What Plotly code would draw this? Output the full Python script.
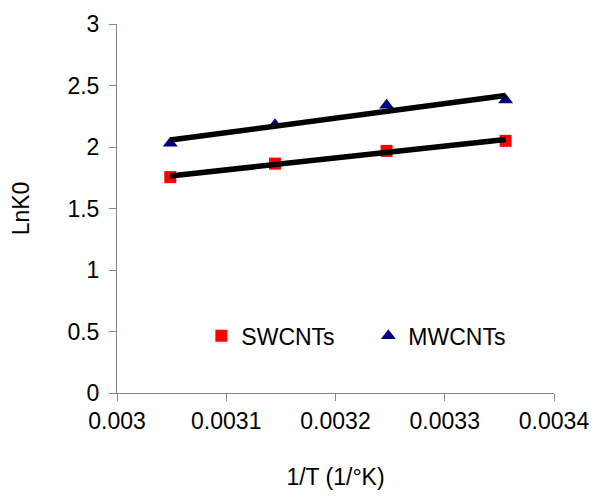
import numpy as np
import plotly.graph_objects as go

# Data
temps_K = [328, 318, 308, 298]
inv_T = [1.0 / t for t in temps_K]
sw_lnk0 = [1.755, 1.865, 1.968, 2.050]
mw_lnk0 = [2.031, 2.180, 2.340, 2.383]

x_ticks = [0.003, 0.0031, 0.0032, 0.0033, 0.0034]
x_tick_labels = ["0.003", "0.0031", "0.0032", "0.0033", "0.0034"]
y_ticks = [0, 0.5, 1, 1.5, 2, 2.5, 3]
y_tick_labels = ["0", "0.5", "1", "1.5", "2", "2.5", "3"]

FONT = "Liberation Sans, Arial, sans-serif"
AXIS_COLOR = "#868686"
FS = 23

fig = go.Figure()
fig.add_trace(go.Scatter(
    x=inv_T, y=sw_lnk0, mode="markers", name="SWCNTs",
    marker=dict(symbol="square", size=12, color="#FF0000"),
))
fig.add_trace(go.Scatter(
    x=inv_T, y=mw_lnk0, mode="markers", name="MWCNTs",
    marker=dict(symbol="triangle-up", size=13, color="#000080"),
))

# Linear trendlines (least-squares fit, as in the original spreadsheet chart)
xa = np.array(inv_T)
for ys in (sw_lnk0, mw_lnk0):
    k, b = np.polyfit(xa, np.array(ys), 1)
    xs = [xa.min(), xa.max()]
    fig.add_trace(go.Scatter(
        x=xs, y=[k * v + b for v in xs], mode="lines", showlegend=False,
        line=dict(color="black", width=5.5), hoverinfo="skip",
    ))

fig.update_layout(
    width=592, height=492,
    margin=dict(l=109, r=46, t=16, b=107, autoexpand=False),
    paper_bgcolor="white", plot_bgcolor="white",
    font=dict(family=FONT, size=FS, color="black"),
    showlegend=True,
    legend=dict(
        orientation="h", x=0.193, y=0.155, xanchor="left", yanchor="middle",
        bgcolor="rgba(0,0,0,0)", font=dict(size=FS), entrywidth=122,
        traceorder="normal",
    ),
    xaxis=dict(
        range=[0.003, 0.0034], tickvals=x_ticks, ticktext=x_tick_labels,
        showgrid=False, zeroline=False, showline=True, linecolor=AXIS_COLOR,
        linewidth=1, ticks="outside", ticklen=7, tickcolor=AXIS_COLOR,
        automargin=False,
        title=dict(text="1/T (1/°K)", standoff=36, font=dict(size=FS)),
    ),
    yaxis=dict(
        range=[0, 3], tickvals=y_ticks, ticktext=y_tick_labels,
        showgrid=False, zeroline=False, showline=True, linecolor=AXIS_COLOR,
        linewidth=1, ticks="outside", ticklen=7, tickcolor=AXIS_COLOR,
        ticklabelstandoff=5, automargin=False,
        title=dict(text="LnK0", standoff=34, font=dict(size=FS)),
    ),
)

fig.write_html("out.html")
